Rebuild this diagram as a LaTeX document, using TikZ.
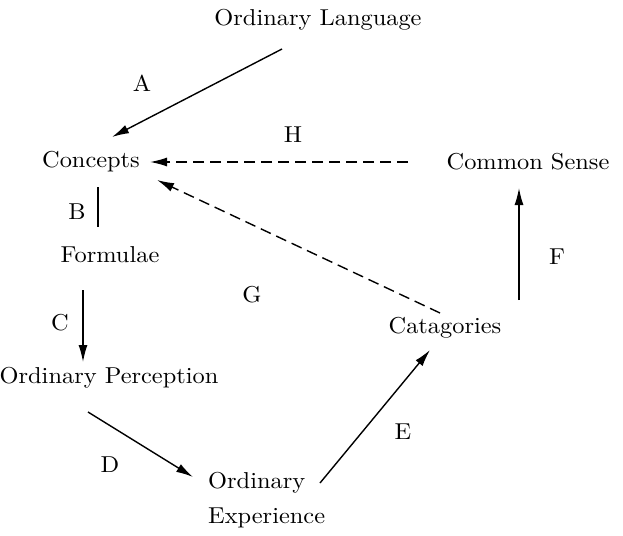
\documentclass[tikz,border=0pt]{standalone}
\usepackage{fontspec}
\setmainfont{lmroman10-regular.otf}[FakeStretch=1.06]
\usetikzlibrary{arrows.meta}
\begin{document}
\begin{tikzpicture}[x=1pt,y=-1pt,
    every node/.style={inner sep=0pt,font=\fontsize{23}{35}\selectfont},
    arr/.style={line width=1.4pt,-{Latex[length=17pt,width=9pt]}},
    dasharr/.style={arr,dash pattern=on 11pt off 6pt}]
    \useasboundingbox (0,0) rectangle (623,535);
    % Terms
    \node (lang) at (318,20) {Ordinary Language};
    \node (concepts) at (91,162) {Concepts};
    \node (formulae) at (110,255) {Formulae};
    \node (percep) at (109,378) {Ordinary Perception};
    \node[anchor=west,align=left] (exper) at (208,500) {Ordinary\\Experience};
    \node (categ) at (445,328) {Catagories};
    \node (sense) at (528,162) {Common Sense};

    % Links
    \draw[arr] ([shift={(-36,29)}]lang.center) -- ([shift={(21,-25)}]concepts.center);
    \draw[line width=1.4pt] ([shift={(7,25)}]concepts.center) -- ([shift={(-12,-28)}]formulae.center);
    \draw[arr] ([shift={(-27,35)}]formulae.center) -- ([shift={(-26,-16)}]percep.center);
    \draw[arr] ([shift={(-21,34)}]percep.center) -- ([shift={(-15,-23)}]exper.west);
    \draw[arr] ([shift={(112,-17)}]exper.west) -- ([shift={(-15,22)}]categ.center);
    \draw[arr] ([shift={(74,-28)}]categ.center) -- ([shift={(-9,26)}]sense.center);
    \draw[dasharr] ([shift={(-120,0)}]sense.center) -- ([shift={(59,0)}]concepts.center);
    \draw[dasharr] ([shift={(-5,-15)}]categ.center) -- ([shift={(66,18)}]concepts.center);

    % Labels
    \node (labA) at (142,83) {A};
    \node (labB) at (77,212) {B};
    \node (labC) at (60,323) {C};
    \node (labD) at (110,465) {D};
    \node (labE) at (403,432) {E};
    \node (labF) at (557,257) {F};
    \node (labG) at (252,295) {G};
    \node (labH) at (293,135) {H};
\end{tikzpicture}
\end{document}
